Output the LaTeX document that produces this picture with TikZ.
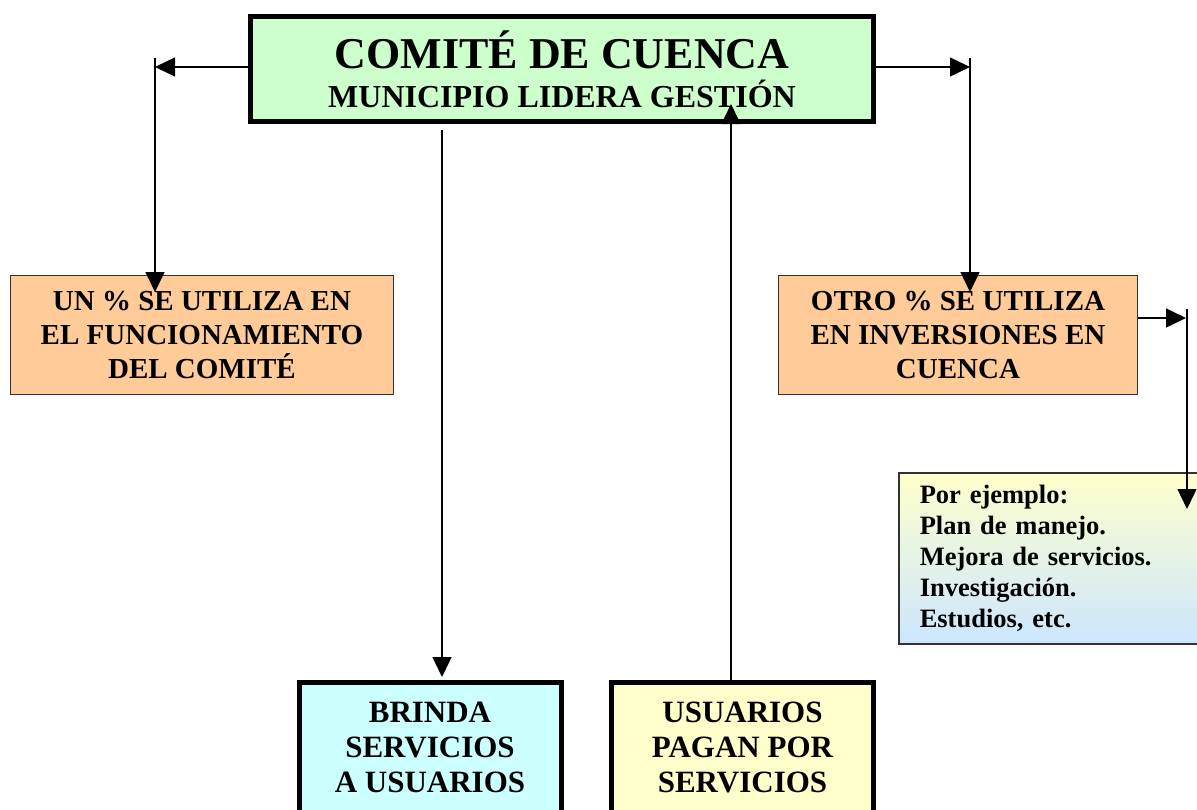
\documentclass[tikz,border=0pt]{standalone}
\usepackage{fontspec}
\setmainfont{Liberation Serif}
\usetikzlibrary{arrows.meta}
\definecolor{topgreen}{HTML}{CCFFCC}
\definecolor{orangefill}{HTML}{FFCC99}
\definecolor{cyanfill}{HTML}{CCFFFF}
\definecolor{yellowfill}{HTML}{FFFFCC}
\definecolor{bluefill}{HTML}{CCE6FF}
\tikzset{
  arr/.style={draw=black, line width=1.4pt, -{Triangle[length=20pt,width=19pt]}},
  thickbox/.style={draw=black, line width=5pt, rectangle, inner sep=0pt},
  thinbox/.style={draw=black!80, line width=1.5pt, rectangle, inner sep=0pt},
  orangebox/.style={thinbox, fill=orangefill, minimum width=383pt, minimum height=119pt,
    align=center, font=\fontsize{29}{34}\selectfont\bfseries},
  bottombox/.style={thickbox, minimum width=262pt, minimum height=131pt, anchor=north,
    align=center, font=\fontsize{31}{35}\selectfont\bfseries},
}
\begin{document}
\begin{tikzpicture}[x=1pt,y=-1pt]
\useasboundingbox (0,0) rectangle (1197,809);

% top box
\node[thickbox, fill=topgreen, minimum width=623pt, minimum height=105pt] (top) at (562,69) {};
\node[anchor=base, font=\fontsize{44}{44}\selectfont\bfseries] (title) at (562,68) {COMITÉ DE CUENCA};
\node[anchor=base, font=\fontsize{32}{32}\selectfont\bfseries] (subtitle) at (562,107) {MUNICIPIO LIDERA GESTIÓN};

% orange boxes
\node[orangebox] (left) at (202,335) {UN \% SE UTILIZA EN\\EL FUNCIONAMIENTO\\DEL COMITÉ};
\node[orangebox, minimum width=359pt] (right) at (958,335) {OTRO \% SE UTILIZA\\EN INVERSIONES EN\\CUENCA};

% example box
\node[thinbox, anchor=north west, top color=yellowfill, bottom color=bluefill,
      text width=278pt, inner xsep=21pt, minimum height=171pt, align=left,
      font=\fontsize{26.5}{31}\selectfont\bfseries] (example) at (898,472)
  {Por ejemplo:\\Plan de manejo.\\Mejora de servicios.\\Investigación.\\Estudios, etc.};

% bottom boxes
\node[bottombox, fill=cyanfill] (serv) at (430,679.5) {BRINDA\\SERVICIOS\\A USUARIOS};
\node[bottombox, fill=yellowfill] (pay) at (742.5,679.5) {USUARIOS\\PAGAN POR\\SERVICIOS};

% coordinates
\coordinate (lh) at (155,67);
\coordinate (lv) at (155,58);
\coordinate (lt) at (155,292);
\coordinate (rh) at (970,67);
\coordinate (rv) at (970,58);
\coordinate (rt) at (970,292);
\coordinate (mstart) at (442,130);
\coordinate (mend) at (442,677);
\coordinate (ustart) at (731,682);
\coordinate (uend) at (731,104);
\coordinate (eh) at (1186,318);
\coordinate (ev) at (1187,309);
\coordinate (et) at (1187,509);

% connectors
\draw[arr] (top.west |- lh) -- (lh);
\draw[arr] (lv) -- (lt);
\draw[arr] (top.east |- rh) -- (rh);
\draw[arr] (rv) -- (rt);
\draw[arr] (mstart) -- (mend);
\draw[arr] (ustart) -- (uend);
\draw[arr] (right.east |- eh) -- (eh);
\draw[arr] (ev) -- (et);
\end{tikzpicture}
\end{document}
